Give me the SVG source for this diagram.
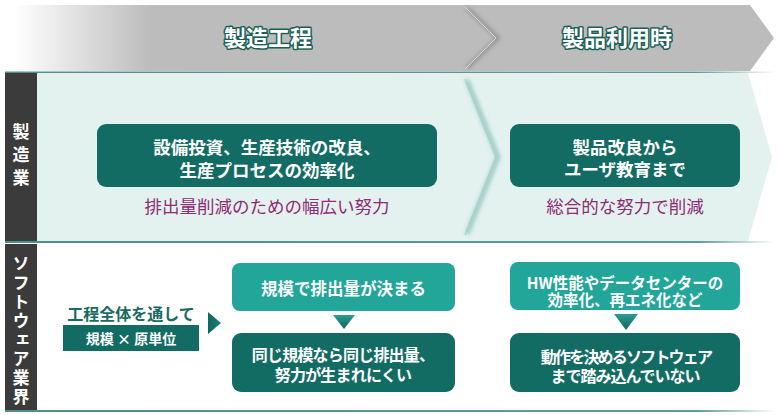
<svg xmlns="http://www.w3.org/2000/svg" width="780" height="415" viewBox="0 0 780 415">
<defs>
<linearGradient id="hdr" gradientUnits="userSpaceOnUse" x1="15" y1="0" x2="150" y2="0">
<stop offset="0" stop-color="#ffffff"/>
<stop offset="1" stop-color="#bcbcbc"/>
</linearGradient>
<linearGradient id="line" gradientUnits="userSpaceOnUse" x1="5" y1="0" x2="775" y2="0">
<stop offset="0" stop-color="#4f8f88"/>
<stop offset="0.9" stop-color="#5f9c95"/>
<stop offset="1" stop-color="#5f9c95" stop-opacity="0"/>
</linearGradient>
<linearGradient id="tri" x1="0" y1="0" x2="0" y2="1">
<stop offset="0" stop-color="#2a9c91"/>
<stop offset="1" stop-color="#0f675f"/>
</linearGradient>
<linearGradient id="trih" x1="0" y1="0" x2="1" y2="0">
<stop offset="0" stop-color="#0f675f"/>
<stop offset="1" stop-color="#1c8479"/>
</linearGradient>
<filter id="blur" x="-50%" y="-10%" width="200%" height="120%">
<feGaussianBlur stdDeviation="2"/>
</filter>
</defs>
<style>
text{font-family:"Noto Sans CJK JP","Noto Sans",sans-serif;text-anchor:middle}
.hd{font-size:22px;font-weight:700;fill:#ffffff;stroke:#1d5f58;stroke-width:3;paint-order:stroke;stroke-linejoin:round}
.wb{font-size:17.5px;font-weight:700;fill:#ffffff}
.ws{font-size:16px;font-weight:700;fill:#ffffff}
.mg{font-size:17.5px;fill:#8e2c74}
.side{font-size:17px;font-weight:700;fill:#ffffff;writing-mode:vertical-rl}
.dk{fill:#136c64}
.lt{fill:#22a69a}
.tl{font-size:16px;font-weight:700;fill:#1b6a62}
</style>

<g id="header">
<polygon points="15,5 750,5 774,38 750,71 15,71" fill="url(#hdr)"/>
<text class="hd" x="268" y="46">製造工程</text>
<text class="hd" x="617" y="46">製品利用時</text>
</g>

<g id="row-manufacturing">
<polygon points="37,73 748,73 772,157 748,241 37,241" fill="#e3f1ef"/>
<rect x="5" y="73" width="32" height="168" fill="#3b3b3b"/>
<text class="side" x="21" y="158" style="letter-spacing:6px">製造業</text>
</g>

<g id="row-software">
<rect x="37" y="244" width="740" height="166" fill="#ffffff"/>
<rect x="5" y="244" width="32" height="166" fill="#3b3b3b"/>
<text class="side" x="21" y="331" style="letter-spacing:2px">ソフトウェア業界</text>
</g>

<g id="borders">
<rect x="5" y="71.5" width="770" height="1.5" fill="url(#line)"/>
<rect x="5" y="241" width="770" height="2" fill="url(#line)"/>
<rect x="5" y="410" width="770" height="2" fill="url(#line)"/>
</g>

<g id="connectors">
<polyline points="467,8 498,38 467,68" fill="none" stroke="#858585" stroke-width="3" filter="url(#blur)"/>
<polyline points="465,7 496,38 465,69" fill="none" stroke="#d8d8d8" stroke-width="1"/>
<polyline points="467,80 498,157 467,234" fill="none" stroke="#72b6ae" stroke-width="3" filter="url(#blur)"/>
<polyline points="465,79 496,157 465,235" fill="none" stroke="#9fd0ca" stroke-width="1"/>
<polygon points="208,312 221,323 208,334" fill="url(#trih)"/>
<polygon points="333,315 355,315 344,329" fill="url(#tri)"/>
<polygon points="614,314 638,314 626,330" fill="url(#tri)"/>
</g>

<g id="node-process">
<rect class="dk" x="97" y="124" width="340" height="63" rx="9"/>
<text class="wb" x="267" y="154">設備投資、生産技術の改良、</text>
<text class="wb" x="267" y="176.5">生産プロセスの効率化</text>
<text class="mg" x="267" y="213">排出量削減のための幅広い努力</text>
</g>

<g id="node-product">
<rect class="dk" x="510" y="124" width="230" height="63" rx="9"/>
<text class="wb" x="625" y="153.5">製品改良から</text>
<text class="wb" x="625" y="176">ユーザ教育まで</text>
<text class="mg" x="625" y="213">総合的な努力で削減</text>
</g>

<g id="node-whole">
<text class="tl" x="131" y="319.5">工程全体を通して</text>
<rect class="dk" x="63" y="325" width="136" height="26"/>
<text x="131" y="343.5" style="font-size:14px;font-weight:700;fill:#ffffff">規模 × 原単位</text>
</g>

<g id="node-scale">
<rect class="lt" x="232" y="263" width="223" height="48" rx="8"/>
<text class="wb" x="343.5" y="295" style="font-size:16.5px">規模で排出量が決まる</text>
</g>

<g id="node-same">
<rect class="dk" x="232" y="333" width="223" height="59" rx="9"/>
<text class="ws" x="343" y="361" style="letter-spacing:-0.8px">同じ規模なら同じ排出量、</text>
<text class="ws" x="343" y="381" style="letter-spacing:-0.8px">努力が生まれにくい</text>
</g>

<g id="node-hw">
<rect class="lt" x="510" y="262" width="230" height="48" rx="8"/>
<text class="ws" x="625" y="288.5" style="font-size:15.5px">HW性能やデータセンターの</text>
<text class="ws" x="625" y="306" style="font-size:15.5px">効率化、再エネ化など</text>
</g>

<g id="node-sw">
<rect class="dk" x="510" y="333" width="230" height="59" rx="9"/>
<text class="ws" x="626" y="362.5" style="letter-spacing:-1.8px">動作を決めるソフトウェア</text>
<text class="ws" x="625" y="381.5" style="letter-spacing:-1px">まで踏み込んでいない</text>
</g>
</svg>
